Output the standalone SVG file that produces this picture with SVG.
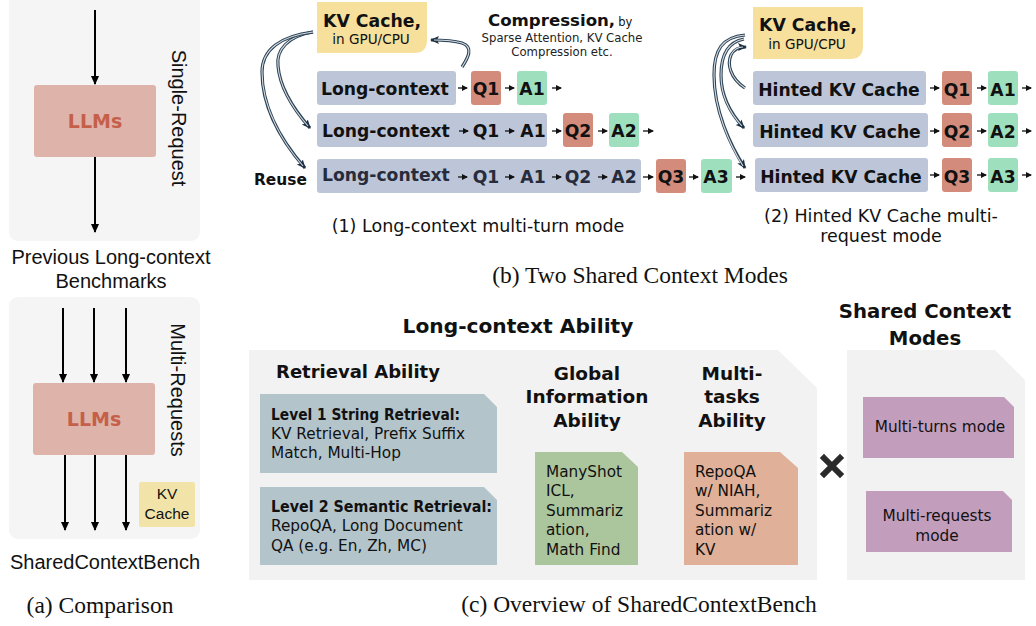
<svg xmlns="http://www.w3.org/2000/svg" width="1036" height="626" viewBox="0 0 1036 626">
<style>
.sans{font-family:"DejaVu Sans",Inter,sans-serif}
.ar{font-family:"Liberation Sans",Arial,sans-serif}
.serif{font-family:"Liberation Serif","Times New Roman",serif}
.b{font-weight:700}
.row{font-family:"DejaVu Sans",Inter,sans-serif;font-weight:700;font-size:17.2px;fill:#111}
.ctx{fill:#bdc5d8}
.q{fill:#d38b7b}
.a{fill:#9ee0bd}
.kv{fill:#f6e09c}
.ln{stroke:#000;stroke-width:2;fill:none}
.sm{stroke:#111;stroke-width:1.3;fill:none;marker-end:url(#sh)}
.dblo{stroke:#2e4355;stroke-width:3.2;fill:none}
.dbli{stroke:#d5dde4;stroke-width:1.1;fill:none}
.body{font-family:"DejaVu Sans",Inter,sans-serif;font-size:15.3px;fill:#111}
</style>
<defs>
<marker id="ah" markerWidth="10" markerHeight="10" refX="8" refY="5" orient="auto" markerUnits="userSpaceOnUse"><path d="M0,1 L9,5 L0,9 Z" fill="#000"/></marker>
<marker id="sh" markerWidth="6" markerHeight="6" refX="5" refY="3" orient="auto" markerUnits="userSpaceOnUse"><path d="M0,0 L6,3 L0,6 Z" fill="#111"/></marker>
<marker id="ch" markerWidth="10" markerHeight="10" refX="8" refY="5" orient="auto" markerUnits="userSpaceOnUse"><path d="M0,1 L9,5 L0,9 L2,5 Z" fill="#1c3042"/></marker>
</defs>

<!-- (a) Comparison -->
<g id="panel-single">
<rect x="9" y="-8" width="191" height="249" rx="9" fill="#f5f5f5"/>
<rect x="34" y="85" width="122" height="72" rx="3" fill="#deb3a9"/>
<text x="95" y="128" text-anchor="middle" class="sans b" font-size="19" fill="#c55f49">LLMs</text>
<text transform="translate(172,118) rotate(90)" text-anchor="middle" class="ar" font-size="20" fill="#111">Single-Request</text>
</g>
<text x="111" y="264" text-anchor="middle" class="ar" font-size="20" fill="#111">Previous Long-context</text>
<text x="111" y="288" text-anchor="middle" class="ar" font-size="20" fill="#111">Benchmarks</text>

<g id="panel-multi">
<rect x="9" y="297" width="191" height="242" rx="9" fill="#f5f5f5"/>
<rect x="33" y="383" width="122" height="72" rx="3" fill="#deb3a9"/>
<text x="94" y="426" text-anchor="middle" class="sans b" font-size="19" fill="#c55f49">LLMs</text>
<text transform="translate(171,390) rotate(90)" text-anchor="middle" class="ar" font-size="20" fill="#111">Multi-Requests</text>
</g>
<g id="kv-small">
<rect x="139" y="482" width="56" height="45" rx="2" fill="#f2e4a8"/>
<text x="167" y="499" text-anchor="middle" class="ar" font-size="15.5" fill="#111">KV</text>
<text x="167" y="519" text-anchor="middle" class="ar" font-size="15.5" fill="#111">Cache</text>
</g>
<text x="105" y="569" text-anchor="middle" class="ar" font-size="20" fill="#111">SharedContextBench</text>
<text x="100" y="613" text-anchor="middle" class="serif" font-size="23.5" fill="#111">(a) Comparison</text>

<g id="left-connectors">
<line x1="95" y1="10" x2="95" y2="84" class="ln" marker-end="url(#ah)"/>
<line x1="95" y1="157" x2="95" y2="232" class="ln" marker-end="url(#ah)"/>
<line x1="63" y1="308" x2="63" y2="382" class="ln" marker-end="url(#ah)"/>
<line x1="94" y1="308" x2="94" y2="382" class="ln" marker-end="url(#ah)"/>
<line x1="126" y1="308" x2="126" y2="382" class="ln" marker-end="url(#ah)"/>
<line x1="65" y1="455" x2="65" y2="530" class="ln" marker-end="url(#ah)"/>
<line x1="95" y1="455" x2="95" y2="530" class="ln" marker-end="url(#ah)"/>
<line x1="126" y1="455" x2="126" y2="530" class="ln" marker-end="url(#ah)"/>
</g>

<!-- (b) mode 1 -->
<g id="kv1">
<path d="M317,2 H427 V40 Q427,53 414,53 H317 Z" class="kv"/>
<text x="372" y="27" text-anchor="middle" class="sans b" font-size="17.3" fill="#111">KV Cache,</text>
<text x="371" y="44" text-anchor="middle" class="sans" font-size="13.6" fill="#111">in GPU/CPU</text>
</g>
<g id="compression">
<text x="488" y="26" class="sans b" font-size="16.6" fill="#111">Compression,<tspan font-size="11.5" font-weight="400" dx="3">by</tspan></text>
<text x="562" y="42" text-anchor="middle" class="sans" font-size="11.7" fill="#222">Sparse Attention, KV Cache</text>
<text x="562" y="56" text-anchor="middle" class="sans" font-size="11.7" fill="#222">Compression etc.</text>
</g>
<g id="m1-row1">
<rect x="317" y="71" width="139" height="34" rx="3" class="ctx"/>
<text x="321" y="95" class="row">Long-context</text>
<rect x="471" y="71" width="30" height="34" rx="3" class="q"/>
<text x="486" y="95" text-anchor="middle" class="row">Q1</text>
<rect x="517" y="71" width="30" height="34" rx="3" class="a"/>
<text x="532" y="95" text-anchor="middle" class="row">A1</text>
</g>
<g id="m1-row2">
<rect x="317" y="113" width="230" height="34" rx="3" class="ctx"/>
<text x="322" y="137" class="row">Long-context</text>
<text x="486" y="137" text-anchor="middle" class="row">Q1</text>
<text x="533" y="137" text-anchor="middle" class="row">A1</text>
<rect x="563" y="113" width="30" height="34" rx="3" class="q"/>
<text x="578" y="137" text-anchor="middle" class="row">Q2</text>
<rect x="609" y="113" width="30" height="34" rx="3" class="a"/>
<text x="624" y="137" text-anchor="middle" class="row">A2</text>
</g>
<g id="m1-row3">
<rect x="317" y="159" width="324" height="34" rx="3" class="ctx"/>
<text x="322" y="181" class="row" style="fill:#262c3c">Long-context</text>
<text x="486" y="183" text-anchor="middle" class="row" style="fill:#262c3c">Q1</text>
<text x="533" y="183" text-anchor="middle" class="row" style="fill:#262c3c">A1</text>
<text x="578" y="183" text-anchor="middle" class="row" style="fill:#262c3c">Q2</text>
<text x="624" y="183" text-anchor="middle" class="row" style="fill:#262c3c">A2</text>
<rect x="656" y="159" width="30" height="34" rx="3" class="q"/>
<text x="671" y="183" text-anchor="middle" class="row">Q3</text>
<rect x="701" y="159" width="31" height="34" rx="3" class="a"/>
<text x="716" y="183" text-anchor="middle" class="row">A3</text>
</g>
<text x="254" y="185" class="sans b" font-size="15.4" fill="#111">Reuse</text>
<text x="478" y="232" text-anchor="middle" class="sans" font-size="17.5" fill="#111">(1) Long-context multi-turn mode</text>

<!-- (b) mode 2 -->
<g id="kv2">
<path d="M753,7 H863 V46 Q863,59 850,59 H753 Z" class="kv"/>
<text x="808" y="31" text-anchor="middle" class="sans b" font-size="17.3" fill="#111">KV Cache,</text>
<text x="807" y="49" text-anchor="middle" class="sans" font-size="13.6" fill="#111">in GPU/CPU</text>
</g>
<g id="m2-row1">
<rect x="753" y="71" width="173" height="34" rx="3" class="ctx"/>
<text x="839" y="96" text-anchor="middle" class="row">Hinted KV Cache</text>
<rect x="942" y="71" width="30" height="34" rx="3" class="q"/>
<text x="957" y="96" text-anchor="middle" class="row">Q1</text>
<rect x="988" y="71" width="30" height="34" rx="3" class="a"/>
<text x="1003" y="96" text-anchor="middle" class="row">A1</text>
</g>
<g id="m2-row2">
<rect x="753" y="113" width="175" height="34" rx="3" class="ctx"/>
<text x="840" y="138" text-anchor="middle" class="row">Hinted KV Cache</text>
<rect x="942" y="113" width="30" height="34" rx="3" class="q"/>
<text x="957" y="138" text-anchor="middle" class="row">Q2</text>
<rect x="988" y="113" width="30" height="34" rx="3" class="a"/>
<text x="1003" y="138" text-anchor="middle" class="row">A2</text>
</g>
<g id="m2-row3">
<rect x="755" y="158" width="173" height="34" rx="3" class="ctx"/>
<text x="841" y="183" text-anchor="middle" class="row">Hinted KV Cache</text>
<rect x="942" y="158" width="30" height="34" rx="3" class="q"/>
<text x="957" y="183" text-anchor="middle" class="row">Q3</text>
<rect x="988" y="158" width="30" height="34" rx="3" class="a"/>
<text x="1003" y="183" text-anchor="middle" class="row">A3</text>
</g>
<text x="881" y="222" text-anchor="middle" class="sans" font-size="17.5" fill="#111">(2) Hinted KV Cache multi-</text>
<text x="881" y="242" text-anchor="middle" class="sans" font-size="17.5" fill="#111">request mode</text>
<text x="640" y="283" text-anchor="middle" class="serif" font-size="23.5" fill="#111">(b) Two Shared Context Modes</text>

<g id="connectors">
<line x1="458" y1="88" x2="467" y2="88" class="sm"/>
<line x1="505" y1="88" x2="514" y2="88" class="sm"/>
<line x1="552" y1="88" x2="561" y2="88" class="sm"/>
<line x1="459" y1="131" x2="468" y2="131" class="sm"/>
<line x1="505" y1="131" x2="514" y2="131" class="sm"/>
<line x1="552" y1="131" x2="561" y2="131" class="sm"/>
<line x1="598" y1="131" x2="607" y2="131" class="sm"/>
<line x1="643" y1="131" x2="653" y2="131" class="sm"/>
<line x1="458" y1="177" x2="467" y2="177" class="sm"/>
<line x1="505" y1="177" x2="514" y2="177" class="sm"/>
<line x1="552" y1="177" x2="561" y2="177" class="sm"/>
<line x1="598" y1="177" x2="607" y2="177" class="sm"/>
<line x1="643" y1="177" x2="653" y2="177" class="sm"/>
<line x1="689" y1="177" x2="698" y2="177" class="sm"/>
<line x1="736" y1="177" x2="745" y2="177" class="sm"/>
<line x1="930" y1="88" x2="939" y2="88" class="sm"/>
<line x1="977" y1="88" x2="986" y2="88" class="sm"/>
<line x1="1022" y1="88" x2="1031" y2="88" class="sm"/>
<line x1="930" y1="131" x2="939" y2="131" class="sm"/>
<line x1="977" y1="131" x2="986" y2="131" class="sm"/>
<line x1="1022" y1="131" x2="1031" y2="131" class="sm"/>
<line x1="930" y1="175" x2="939" y2="175" class="sm"/>
<line x1="977" y1="175" x2="986" y2="175" class="sm"/>
<line x1="1022" y1="175" x2="1031" y2="175" class="sm"/>
<path d="M313,32 C288,36 276,50 278,66 C280,90 296,112 310,128" class="dblo" marker-end="url(#ch)"/>
<path d="M313,32 C288,36 276,50 278,66 C280,90 296,112 308,126" class="dbli"/>
<path d="M313,32 C280,36 262,50 262,72 C262,110 285,145 305,168" class="dblo" marker-end="url(#ch)"/>
<path d="M313,32 C280,36 262,50 262,72 C262,110 285,145 303,166" class="dbli"/>
<path d="M462,67 C468,58 474,47 462,43 C452,40 442,40 431,40" class="dblo" marker-end="url(#ch)"/>
<path d="M462,67 C468,58 474,47 462,43 C452,40 442,40 434,40" class="dbli"/>
<path d="M745,35 C722,37 714,50 714,75 C714,110 730,145 745,168" class="dblo" marker-end="url(#ch)"/>
<path d="M745,35 C722,37 714,50 714,75 C714,110 730,145 743,166" class="dbli"/>
<path d="M744,39 C728,42 721,55 721,75 C721,95 730,113 744,128" class="dblo" marker-end="url(#ch)"/>
<path d="M744,39 C728,42 721,55 721,75 C721,95 730,113 742,126" class="dbli"/>
<path d="M745,88 C730,78 727,64 731,55 C734,49 739,47 746,47" class="dblo" marker-end="url(#ch)"/>
<path d="M745,88 C730,78 727,64 731,55 C734,49 739,47 743,47" class="dbli"/>
</g>

<!-- (c) Overview -->
<text x="518" y="333" text-anchor="middle" class="sans b" font-size="20.2" fill="#111">Long-context Ability</text>
<g id="ability-panel">
<path d="M249,350 H778 L817,388 V580 H249 Z" fill="#f2f2f2"/>
<text x="358" y="378" text-anchor="middle" class="sans b" font-size="18" fill="#111">Retrieval Ability</text>
<text x="587" y="380" text-anchor="middle" class="sans b" font-size="18.5" fill="#111">Global</text>
<text x="587" y="403" text-anchor="middle" class="sans b" font-size="18.5" fill="#111">Information</text>
<text x="587" y="427" text-anchor="middle" class="sans b" font-size="18.5" fill="#111">Ability</text>
<text x="732" y="380" text-anchor="middle" class="sans b" font-size="18.5" fill="#111">Multi-</text>
<text x="732" y="403" text-anchor="middle" class="sans b" font-size="18.5" fill="#111">tasks</text>
<text x="732" y="427" text-anchor="middle" class="sans b" font-size="18.5" fill="#111">Ability</text>
</g>
<g id="level1">
<path d="M260,394 H484 L497,407 V473 H260 Z" fill="#b4c4cb"/>
<text x="271" y="420" class="body b" font-size="13.5" textLength="189" lengthAdjust="spacingAndGlyphs">Level 1 String Retrieval:</text>
<text x="271" y="439" class="body">KV Retrieval, Prefix Suffix</text>
<text x="271" y="458" class="body">Match, Multi-Hop</text>
</g>
<g id="level2">
<path d="M260,487 H484 L497,500 V565 H260 Z" fill="#b4c4cb"/>
<text x="271" y="512" class="body b" font-size="13.5" textLength="221" lengthAdjust="spacingAndGlyphs">Level 2 Semantic Retrieval:</text>
<text x="271" y="531" class="body">RepoQA, Long Document</text>
<text x="271" y="551" class="body">QA (e.g. En, Zh, MC)</text>
</g>
<g id="global">
<path d="M535,452 H622 L638,467 V565 H535 Z" fill="#abc59d"/>
<text x="546" y="477" class="body" font-size="15.8">ManyShot</text>
<text x="546" y="496" class="body" font-size="15.8">ICL,</text>
<text x="546" y="516" class="body" font-size="15.8">Summariz</text>
<text x="546" y="535" class="body" font-size="15.8">ation,</text>
<text x="546" y="555" class="body" font-size="15.8">Math Find</text>
</g>
<g id="multitask">
<path d="M684,452 H780 L798,468 V565 H684 Z" fill="#e0b098"/>
<text x="695" y="477" class="body" font-size="15.8">RepoQA</text>
<text x="695" y="496" class="body" font-size="15.8">w/ NIAH,</text>
<text x="695" y="516" class="body" font-size="15.8">Summariz</text>
<text x="695" y="535" class="body" font-size="15.8">ation w/</text>
<text x="695" y="555" class="body" font-size="15.8">KV</text>
</g>
<g id="times">
<path d="M824,458 L840,474 M840,458 L824,474" stroke="#2a2a2a" stroke-width="6" stroke-linecap="square"/>
</g>
<text x="925" y="318" text-anchor="middle" class="sans b" font-size="19.7" fill="#111">Shared Context</text>
<text x="925" y="345" text-anchor="middle" class="sans b" font-size="19.7" fill="#111">Modes</text>
<g id="modes-panel">
<path d="M847,350 H995 L1025,380 V580 H847 Z" fill="#f2f2f2"/>
</g>
<g id="multi-turns">
<path d="M863,397 H1004 L1014,407 V458 H863 Z" fill="#c39dbc"/>
<text x="940" y="432" text-anchor="middle" class="body" font-size="16">Multi-turns mode</text>
</g>
<g id="multi-requests">
<path d="M866,491 H1003 L1012,500 V552 H866 Z" fill="#c39dbc"/>
<text x="937" y="521" text-anchor="middle" class="body" font-size="16">Multi-requests</text>
<text x="937" y="541" text-anchor="middle" class="body" font-size="16">mode</text>
</g>
<text x="639" y="612" text-anchor="middle" class="serif" font-size="23.5" fill="#111">(c) Overview of SharedContextBench</text>
</svg>
